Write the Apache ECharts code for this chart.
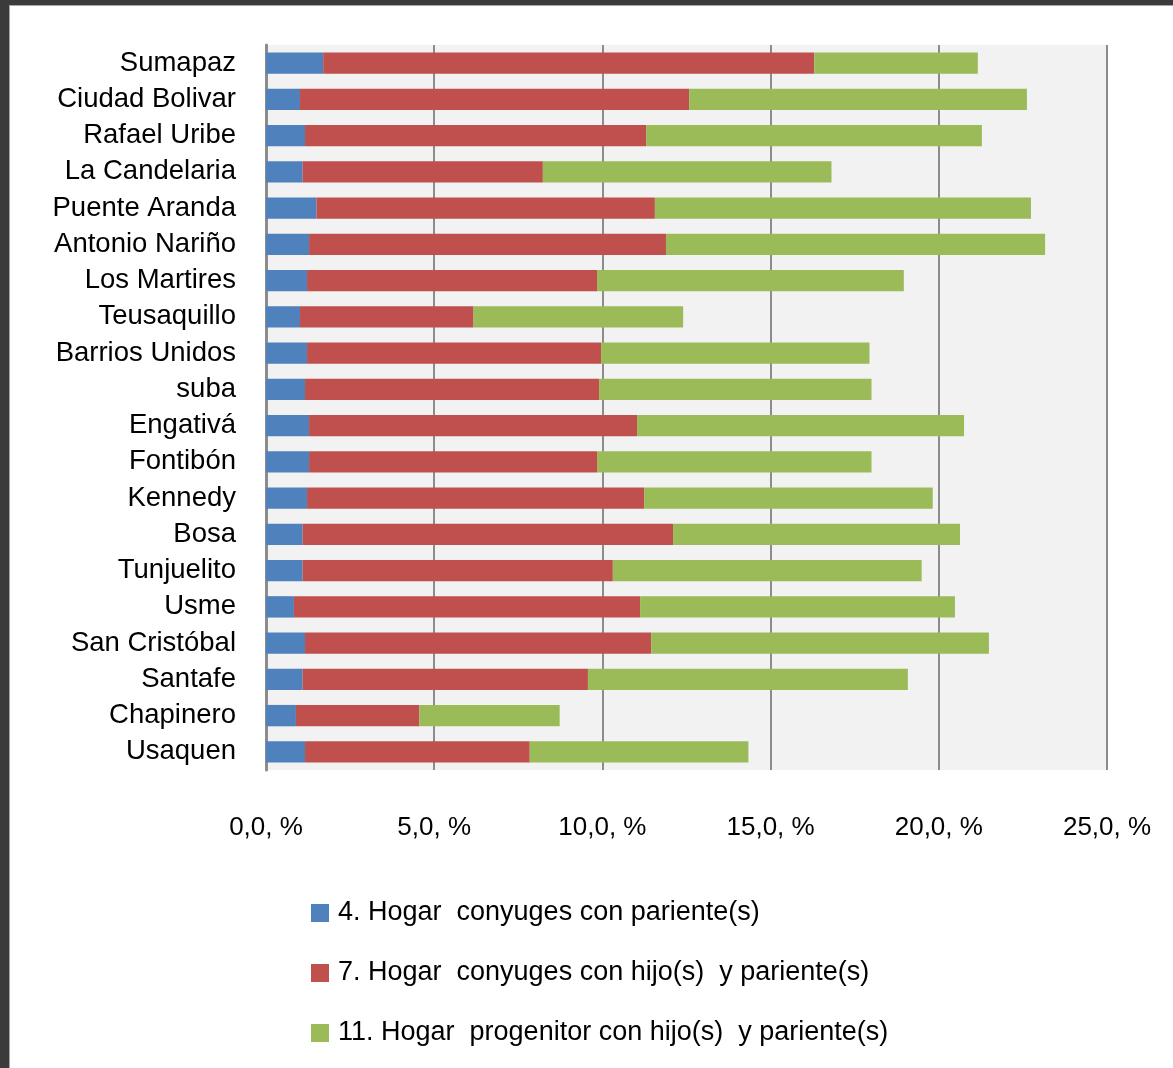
<!DOCTYPE html>
<html>
<head>
<meta charset="utf-8">
<script src="https://cdn.jsdelivr.net/npm/echarts@6/dist/echarts.min.js"></script>
<style>
    html, body { margin: 0; padding: 0; width: 1173px; height: 1068px; background: #3b3b3b; overflow: hidden; }
    #frame { position: absolute; left: 9px; top: 5px; width: 1164px; height: 1063px; background: #fff;
             border-left: 1px solid #a6a6a6; border-top: 1px solid #a6a6a6; box-sizing: border-box; }
    #chart { width: 100%; height: 100%; }
</style>
</head>
<body>
<div id="frame"><div id="chart"></div></div>
<script>
    // localidades, de arriba hacia abajo
    var localidades = ['Sumapaz', 'Ciudad Bolivar', 'Rafael Uribe', 'La Candelaria', 'Puente Aranda',
        'Antonio Nariño', 'Los Martires', 'Teusaquillo', 'Barrios Unidos', 'suba', 'Engativá',
        'Fontibón', 'Kennedy', 'Bosa', 'Tunjuelito', 'Usme', 'San Cristóbal', 'Santafe',
        'Chapinero', 'Usaquen'];

    var serieNombres = ['4. Hogar  conyuges con pariente(s)',
        '7. Hogar  conyuges con hijo(s)  y pariente(s)',
        '11. Hogar  progenitor con hijo(s)  y pariente(s)'];

    // porcentajes
    var conyugesPariente = [1.70, 1.01, 1.16, 1.09, 1.50, 1.28, 1.22, 1.01, 1.22, 1.16,
        1.28, 1.28, 1.22, 1.09, 1.09, 0.83, 1.16, 1.09, 0.89, 1.16];
    var conyugesHijosPariente = [14.60, 11.57, 10.14, 7.14, 10.06, 10.61, 8.62, 5.16, 8.74, 8.74,
        9.75, 8.56, 10.02, 11.01, 9.22, 10.29, 10.29, 8.48, 3.67, 6.68];
    var progenitorHijosPariente = [4.86, 10.04, 9.98, 8.58, 11.18, 11.27, 9.12, 6.23, 7.98, 8.10,
        9.72, 8.16, 8.58, 8.53, 9.18, 9.36, 10.04, 9.51, 4.17, 6.50];

    var ejeTicks = [0, 5, 10, 15, 20, 25];

    var colores = ['#4f81bd', '#c0504d', '#9bbb59'];
    var fuente = "'Liberation Sans', Arial, sans-serif";

    var myChart = echarts.init(document.getElementById('chart'), null, { renderer: 'canvas' });

    var valores = [conyugesPariente, conyugesHijosPariente, progenitorHijosPariente];
    var series = serieNombres.map(function (nombre, i) {
        return {
            name: nombre,
            type: 'bar',
            stack: 'total',
            barCategoryGap: '41%',
            itemStyle: { color: colores[i] },
            data: valores[i]
        };
    });

    var option = {
        animation: false,
        textStyle: { fontFamily: fuente },
        grid: {
            left: 256,
            right: 66,
            top: 39,
            bottom: 298,
            show: true,
            backgroundColor: '#f2f2f2',
            borderWidth: 0
        },
        legend: {
            orient: 'vertical',
            left: 296,
            top: 887,
            icon: 'rect',
            itemWidth: 18,
            itemHeight: 18,
            itemGap: 30,
            data: serieNombres,
            textStyle: { fontSize: 27, color: '#000', fontFamily: fuente, lineHeight: 30, padding: [0, 0, 0, 4] }
        },
        xAxis: {
            type: 'value',
            min: ejeTicks[0],
            max: ejeTicks[ejeTicks.length - 1],
            interval: 5,
            axisLine: { show: false },
            axisTick: { show: false },
            splitLine: { show: true, lineStyle: { color: '#8c8c8c', width: 2 } },
            axisLabel: {
                margin: 45,
                fontSize: 26,
                color: '#000',
                fontFamily: fuente,
                formatter: function (v) { return v.toFixed(1).replace('.', ',') + ', %'; }
            }
        },
        yAxis: {
            type: 'category',
            inverse: true,
            data: localidades,
            axisLine: { show: true, lineStyle: { color: '#8c8c8c', width: 3 } },
            axisTick: { show: false },
            axisLabel: {
                interval: 0,
                margin: 30,
                fontSize: 27.5,
                color: '#000',
                fontFamily: fuente
            }
        },
        series: series
    };

    myChart.setOption(option);
</script>
</body>
</html>
